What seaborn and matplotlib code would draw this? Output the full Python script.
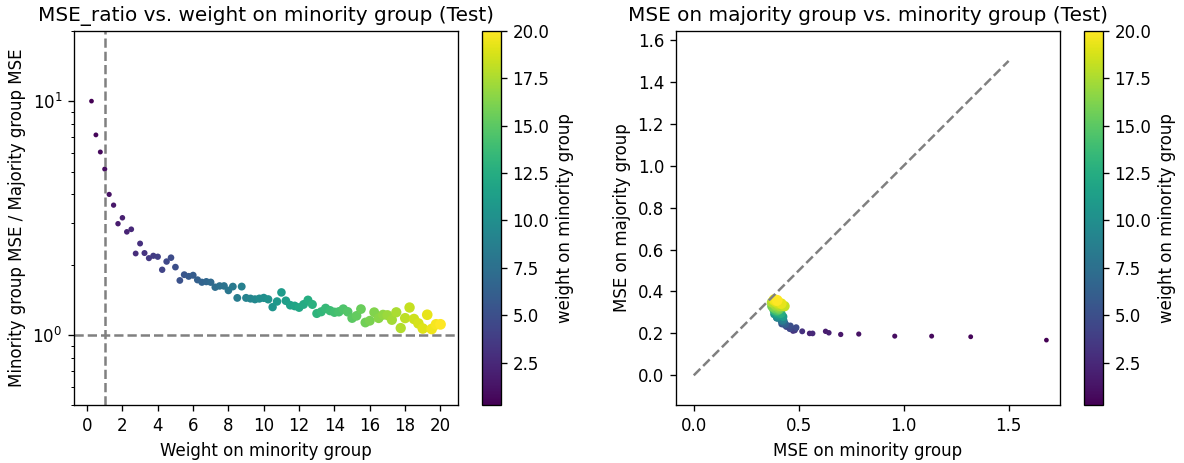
import numpy as np
import pandas as pd
import matplotlib
matplotlib.use("Agg")
import matplotlib.pyplot as plt
import seaborn as sns

# weight on minority group (0.25 .. 20 in steps of 0.25)
weights = [0.25, 0.5, 0.75, 1.0, 1.25, 1.5, 1.75, 2.0, 2.25, 2.5,
           2.75, 3.0, 3.25, 3.5, 3.75, 4.0, 4.25, 4.5, 4.75, 5.0,
           5.25, 5.5, 5.75, 6.0, 6.25, 6.5, 6.75, 7.0, 7.25, 7.5,
           7.75, 8.0, 8.25, 8.5, 8.75, 9.0, 9.25, 9.5, 9.75, 10.0,
           10.25, 10.5, 10.75, 11.0, 11.25, 11.5, 11.75, 12.0, 12.25, 12.5,
           12.75, 13.0, 13.25, 13.5, 13.75, 14.0, 14.25, 14.5, 14.75, 15.0,
           15.25, 15.5, 15.75, 16.0, 16.25, 16.5, 16.75, 17.0, 17.25, 17.5,
           17.75, 18.0, 18.25, 18.5, 18.75, 19.0, 19.25, 19.5, 19.75, 20.0]

# minority MSE / majority MSE (test)
mse_ratio = [10.0, 7.17, 6.06, 5.12, 3.99, 3.59, 2.99, 3.17, 2.76, 2.83,
             2.23, 2.46, 2.24, 2.13, 2.18, 2.16, 1.90, 2.06, 2.14, 1.95,
             1.71, 1.81, 1.78, 1.80, 1.72, 1.68, 1.69, 1.68, 1.60, 1.62,
             1.62, 1.55, 1.61, 1.44, 1.61, 1.44, 1.43, 1.42, 1.43, 1.44,
             1.42, 1.315, 1.39, 1.52, 1.40, 1.34, 1.33, 1.31, 1.35, 1.41,
             1.35, 1.235, 1.256, 1.30, 1.27, 1.25, 1.256, 1.29, 1.256, 1.18,
             1.207, 1.29, 1.13, 1.15, 1.25, 1.18, 1.22, 1.215, 1.16, 1.25,
             1.07, 1.18, 1.31, 1.17, 1.12, 1.065, 1.22, 1.06, 1.11, 1.11]

# MSE on majority group (test)
mse_majority = [0.168, 0.184, 0.187, 0.187, 0.197, 0.195, 0.210, 0.203, 0.200, 0.200,
                0.212, 0.210, 0.215, 0.222, 0.218, 0.225, 0.232, 0.222, 0.228, 0.236,
                0.245, 0.240, 0.245, 0.243, 0.250, 0.255, 0.252, 0.256, 0.262, 0.258,
                0.262, 0.268, 0.262, 0.275, 0.265, 0.276, 0.278, 0.280, 0.279, 0.282,
                0.285, 0.292, 0.288, 0.280, 0.292, 0.296, 0.298, 0.300, 0.298, 0.295,
                0.302, 0.310, 0.308, 0.306, 0.310, 0.314, 0.313, 0.310, 0.316, 0.322,
                0.320, 0.315, 0.330, 0.328, 0.322, 0.330, 0.328, 0.332, 0.336, 0.330,
                0.348, 0.340, 0.330, 0.345, 0.350, 0.358, 0.342, 0.362, 0.356, 0.358]

df = pd.DataFrame({"weight": weights, "ratio": mse_ratio, "mse_maj": mse_majority})
df["mse_min"] = df["ratio"] * df["mse_maj"]

plt.rcParams["font.family"] = ["DejaVu Sans"]

fig = plt.figure(figsize=(1184 / 120, 463 / 120), dpi=120)
ax1 = fig.add_axes([0.0625, 0.1246, 0.3243, 0.809])
cax1 = fig.add_axes([0.4073, 0.1246, 0.0155, 0.809])
ax2 = fig.add_axes([0.5707, 0.1246, 0.3248, 0.809])
cax2 = fig.add_axes([0.9158, 0.1246, 0.0155, 0.809])

norm = plt.Normalize(min(weights), max(weights))
sm = plt.cm.ScalarMappable(cmap="viridis", norm=norm)

# 1. ratio vs weight
sns.scatterplot(data=df, x="weight", y="ratio", hue="weight", palette="viridis",
                hue_norm=norm, size="weight", sizes=(8, 42), linewidth=0,
                legend=False, ax=ax1)
ax1.axhline(1, color="gray", linestyle="--", linewidth=1.5)
ax1.axvline(1, color="gray", linestyle="--", linewidth=1.5)
ax1.set_yscale("log")
ax1.set_ylim(0.5, 20)
ax1.set_xlim(-0.74, 20.99)
ax1.set_xticks(range(0, 21, 2))
ax1.set_title("MSE_ratio vs. weight on minority group (Test)")
ax1.set_xlabel("Weight on minority group")
ax1.set_ylabel("Minority group MSE / Majority group MSE")
cb1 = fig.colorbar(sm, cax=cax1)
cb1.set_label("weight on minority group")

# 2. majority vs minority MSE
sns.scatterplot(data=df, x="mse_min", y="mse_maj", hue="weight", palette="viridis",
                hue_norm=norm, size="weight", sizes=(8, 42), linewidth=0,
                legend=False, ax=ax2)
ax2.plot([0, 1.5], [0, 1.5], color="gray", linestyle="--", linewidth=1.5)
ax2.set_xlim(-0.086, 1.746)
ax2.set_ylim(-0.143, 1.644)
ax2.set_xticks([0.0, 0.5, 1.0, 1.5])
ax2.set_title("MSE on majority group vs. minority group (Test)")
ax2.set_xlabel("MSE on minority group")
ax2.set_ylabel("MSE on majority group")
cb2 = fig.colorbar(sm, cax=cax2)
cb2.set_label("weight on minority group")

fig.savefig("out.png", dpi=120)
